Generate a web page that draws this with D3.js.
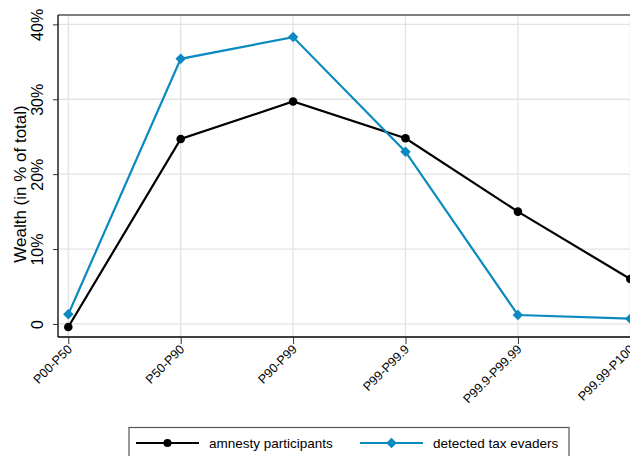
<!DOCTYPE html>
<html>
<head>
<meta charset="utf-8">
<script src="https://cdn.jsdelivr.net/npm/d3@7"></script>
<style>
  body { margin: 0; background: #fff; }
  svg { display: block; font-family: "Liberation Sans", Arial, sans-serif; }
</style>
</head>
<body>
<svg id="chart" width="630" height="456"></svg>
<script>
// Data
var groups = ['P00-P50', 'P50-P90', 'P90-P99', 'P99-P99.9', 'P99.9-P99.99', 'P99.99-P100'];
var amnesty = [-0.4, 24.7, 29.7, 24.8, 15.0, 6.0];
var evaders = [1.3, 35.4, 38.3, 23.0, 1.2, 0.7];
var yTicks = [0, 10, 20, 30, 40];
var seriesNames = ['amnesty participants', 'detected tax evaders'];

var black = '#000000', blue = '#0a8abf';

// Plot area
var plot = {left: 58, top: 15, bottom: 337, right: 645};

var svg = d3.select('#chart');

var xScale = d3.scaleLinear().domain([0, groups.length - 1]).range([68.3, 630.3]);
var yScale = d3.scaleLinear().domain([-1.74, 41.25]).range([plot.bottom, plot.top]);

// Gridlines
svg.append('g').selectAll('line')
    .data(yTicks).enter().append('line')
    .attr('x1', plot.left).attr('x2', plot.right)
    .attr('y1', function(d) { return yScale(d); })
    .attr('y2', function(d) { return yScale(d); })
    .attr('stroke', '#e3e3e3').attr('stroke-width', 1.3);

svg.append('g').selectAll('line')
    .data(groups).enter().append('line')
    .attr('x1', function(d, i) { return xScale(i); })
    .attr('x2', function(d, i) { return xScale(i); })
    .attr('y1', plot.top).attr('y2', plot.bottom)
    .attr('stroke', '#e3e3e3').attr('stroke-width', 1.3);

// Frame top
svg.append('line')
    .attr('x1', plot.left).attr('x2', plot.right).attr('y1', plot.top).attr('y2', plot.top)
    .attr('stroke', '#555').attr('stroke-width', 1.3);

// Y axis
var yAxis = d3.axisLeft(yScale).tickValues(yTicks).tickSize(5)
    .tickFormat(function(d) { return d === 0 ? '0' : d + '%'; });
var gy = svg.append('g').attr('transform', 'translate(' + plot.left + ',0)').call(yAxis);
gy.select('.domain').attr('d', 'M0,' + plot.top + 'V' + plot.bottom).attr('stroke', '#000').attr('stroke-width', 1.3);
gy.selectAll('.tick line').attr('stroke', '#333');
gy.selectAll('.tick text')
    .attr('font-size', 16).attr('fill', '#000')
    .attr('text-anchor', 'middle')
    .attr('x', 0).attr('y', 0).attr('dy', 0)
    .attr('transform', 'translate(-15,0) rotate(-90)');

// Y axis title
svg.append('text')
    .attr('transform', 'translate(26,' + ((plot.top + plot.bottom) / 2 + 8) + ') rotate(-90)')
    .attr('text-anchor', 'middle')
    .attr('font-size', 17)
    .text('Wealth (in % of total)');

// X axis
var xAxis = d3.axisBottom(xScale).tickValues(d3.range(groups.length)).tickSize(7)
    .tickFormat(function(i) { return groups[i]; });
var gx = svg.append('g').attr('transform', 'translate(0,' + plot.bottom + ')').call(xAxis);
gx.select('.domain').attr('d', 'M' + plot.left + ',0H' + plot.right).attr('stroke', '#000').attr('stroke-width', 1.3);
gx.selectAll('.tick line').attr('stroke', '#333');
gx.selectAll('.tick text')
    .attr('font-size', 12.5).attr('fill', '#000')
    .attr('text-anchor', 'end')
    .attr('x', 0).attr('y', 0).attr('dy', 0)
    .attr('transform', 'translate(4,13) rotate(-45)');

// Lines
var line = d3.line()
    .x(function(d, i) { return xScale(i); })
    .y(function(d) { return yScale(d); });

svg.append('path').datum(amnesty)
    .attr('d', line).attr('fill', 'none').attr('stroke', black).attr('stroke-width', 2.2);
svg.append('path').datum(evaders)
    .attr('d', line).attr('fill', 'none').attr('stroke', blue).attr('stroke-width', 2.2);

svg.append('g').selectAll('circle')
    .data(amnesty).enter().append('circle')
    .attr('cx', function(d, i) { return xScale(i); })
    .attr('cy', function(d) { return yScale(d); })
    .attr('r', 4.3).attr('fill', black);

var diamond = d3.symbol().type(d3.symbolDiamond2).size(70);
svg.append('g').selectAll('path')
    .data(evaders).enter().append('path')
    .attr('d', diamond)
    .attr('transform', function(d, i) { return 'translate(' + xScale(i) + ',' + yScale(d) + ')'; })
    .attr('fill', blue);

// Legend
var legend = svg.append('g');
legend.append('rect')
    .attr('x', 129).attr('y', 427.5).attr('width', 440).attr('height', 40)
    .attr('fill', '#fff').attr('stroke', '#555').attr('stroke-width', 1.2);

var legendX = [136, 360];
seriesNames.forEach(function(name, k) {
  var col = k === 0 ? black : blue;
  var lx = legendX[k], ly = 443;
  legend.append('line')
      .attr('x1', lx).attr('x2', lx + 63).attr('y1', ly).attr('y2', ly)
      .attr('stroke', col).attr('stroke-width', 2.2);
  if (k === 0) {
    legend.append('circle').attr('cx', lx + 31.5).attr('cy', ly).attr('r', 4).attr('fill', col);
  } else {
    legend.append('path').attr('d', diamond)
        .attr('transform', 'translate(' + (lx + 31.5) + ',' + ly + ')')
        .attr('fill', col);
  }
  legend.append('text')
      .attr('x', lx + 73).attr('y', ly + 5)
      .attr('font-size', 13.5)
      .text(name);
});
</script>
</body>
</html>
